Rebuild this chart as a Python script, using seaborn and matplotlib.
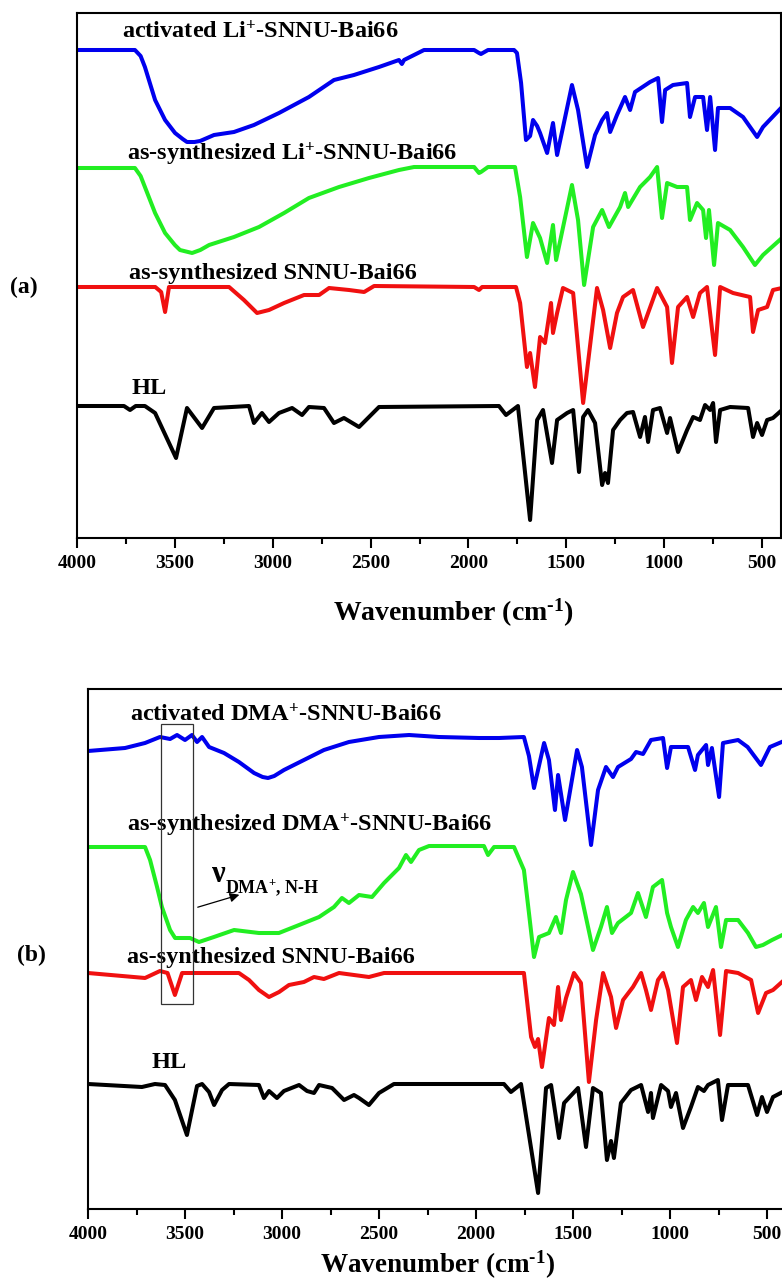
import matplotlib
matplotlib.use("Agg")
import matplotlib.pyplot as plt
from matplotlib.ticker import MultipleLocator
import seaborn as sns
import pandas as pd

# ---------------- Panel (a) data (wavenumber cm-1, transmittance a.u. with offsets) -------------
a_act_li_wn = [4000, 3704, 3675, 3653, 3601, 3550, 3499, 3460, 3438, 3400, 3371, 3300, 3198, 3096, 2968,
               2815, 2687, 2585, 2457, 2355, 2340, 2329, 2227, 1971, 1946, 1936, 1900, 1767, 1752, 1731,
               1706, 1685, 1670, 1649, 1634, 1598, 1568, 1547, 1471, 1440, 1394, 1353, 1317, 1292, 1276,
               1241, 1200, 1174, 1149, 1072, 1031, 1011, 995, 955, 883, 868, 842, 801, 781, 765, 740,
               725, 663, 597, 525, 495, 398]
a_act_li_t = [488, 488, 482, 471, 438, 418, 405, 399, 396, 396, 397, 403, 406, 413, 425,
              441, 458, 463, 471, 478, 474, 478, 488, 488, 485, 484, 488, 488, 485, 455,
              398, 402, 418, 412, 405, 385, 415, 383, 453, 428, 371, 403, 418, 425, 406,
              423, 441, 428, 446, 456, 460, 416, 448, 453, 455, 421, 441, 441, 408, 441, 388,
              430, 430, 421, 401, 411, 431]

a_syn_li_wn = [4000, 3704, 3675, 3653, 3601, 3550, 3500, 3474, 3412, 3370, 3325, 3198, 3070, 2942, 2815,
               2661, 2508, 2355, 2278, 1971, 1946, 1936, 1900, 1762, 1736, 1701, 1670, 1634, 1598, 1568,
               1552, 1471, 1440, 1409, 1363, 1317, 1282, 1225, 1200, 1184, 1123, 1072, 1036, 1011, 985,
               934, 883, 868, 832, 801, 786, 771, 745, 725, 663, 597, 536, 495, 398]
a_syn_li_t = [370, 370, 362, 351, 325, 305, 293, 288, 285, 288, 293, 301, 311, 325, 340,
              351, 360, 368, 371, 371, 365, 366, 371, 371, 341, 281, 315, 300, 275, 313,
              278, 353, 318, 253, 311, 328, 311, 331, 345, 331, 351, 361, 371, 320, 355,
              351, 351, 318, 335, 328, 300, 328, 273, 315, 308, 291, 273, 283, 300]

a_syn_wn = [4000, 3600, 3570, 3550, 3530, 3223, 3147, 3080, 3019, 2942, 2840, 2763, 2712, 2610, 2533,
            2482, 1971, 1946, 1930, 1757, 1736, 1701, 1685, 1660, 1634, 1609, 1578, 1568, 1547, 1517,
            1465, 1414, 1343, 1312, 1276, 1241, 1210, 1159, 1108, 1036, 985, 960, 929, 883, 852, 817,
            781, 740, 714, 648, 561, 546, 520, 474, 444, 398]
a_syn_t = [251, 251, 246, 226, 251, 251, 238, 225, 228, 235, 243, 243, 250, 248, 246,
           252, 251, 248, 251, 251, 235, 171, 185, 151, 201, 195, 235, 205, 225, 250,
           245, 135, 250, 228, 190, 225, 241, 248, 211, 250, 231, 175, 231, 241, 221, 245,
           251, 183, 251, 245, 241, 206, 228, 231, 248, 250]

a_hl_wn = [4000, 3760, 3729, 3700, 3653, 3601, 3494, 3438, 3361, 3300, 3121, 3096, 3055, 3019, 2968,
           2901, 2850, 2815, 2738, 2687, 2636, 2559, 2508, 2457, 1844, 1808, 1747, 1685, 1649, 1619,
           1573, 1547, 1496, 1465, 1435, 1414, 1389, 1353, 1317, 1302, 1287, 1261, 1225, 1190, 1159,
           1123, 1098, 1082, 1057, 1021, 985, 970, 929, 883, 852, 817, 791, 765, 750, 735, 714, 663,
           571, 546, 525, 500, 474, 444, 398]
a_hl_t = [132, 132, 128, 132, 132, 125, 80, 130, 110, 130, 132, 115, 125, 116, 125,
          130, 123, 131, 130, 115, 120, 111, 121, 131, 132, 123, 132, 18, 118, 128,
          75, 118, 125, 128, 66, 121, 128, 115, 53, 65, 55, 108, 118, 125, 126,
          101, 121, 96, 128, 130, 105, 120, 86, 108, 121, 118, 133, 128, 135, 96, 128, 131,
          130, 101, 115, 103, 118, 120, 128]

# ---------------- Panel (b) data ----------------
b_act_dma_wn = [4000, 3809, 3706, 3629, 3577, 3541, 3500, 3464, 3438, 3412, 3376, 3299, 3222, 3144, 3100,
                3072, 3040, 2990, 2887, 2784, 2655, 2500, 2345, 2191, 1985, 1881, 1753, 1727, 1701, 1649,
                1624, 1593, 1577, 1541, 1479, 1454, 1407, 1371, 1330, 1294, 1268, 1201, 1175, 1139, 1098,
                1036, 1015, 995, 907, 871, 856, 814, 804, 784, 747, 727, 649, 600, 531, 485, 400]
b_act_dma_t = [458, 461, 466, 472, 470, 474, 469, 474, 467, 472, 462, 456, 447, 436, 432,
               431, 433, 439, 449, 459, 467, 472, 474, 472, 471, 471, 472, 453, 421, 466,
               449, 399, 434, 389, 459, 442, 364, 419, 442, 432, 442, 450, 457, 455, 469,
               471, 441, 462, 462, 439, 454, 464, 444, 461, 412, 466, 469, 462, 444, 462, 469]

b_syn_dma_wn = [4000, 3706, 3680, 3644, 3619, 3577, 3551, 3474, 3428, 3351, 3247, 3119, 3016, 2912, 2809,
                2732, 2691, 2655, 2603, 2536, 2474, 2397, 2361, 2335, 2294, 2242, 1959, 1938, 1907, 1804,
                1753, 1727, 1701, 1675, 1624, 1588, 1562, 1536, 1500, 1459, 1418, 1397, 1356, 1325, 1299,
                1268, 1201, 1165, 1124, 1088, 1041, 1015, 995, 959, 918, 881, 856, 825, 804, 763, 737,
                711, 649, 598, 557, 521, 474, 400]
b_syn_dma_t = [362, 362, 349, 322, 302, 279, 271, 271, 267, 272, 279, 276, 276, 284, 292,
               302, 311, 306, 314, 312, 326, 341, 354, 347, 359, 363, 363, 354, 362, 362,
               339, 296, 252, 272, 276, 292, 276, 309, 337, 315, 278, 259, 282, 302, 276,
               286, 296, 316, 292, 322, 329, 296, 282, 262, 289, 302, 296, 306, 282, 302, 262,
               289, 289, 276, 262, 264, 269, 276]

b_syn_wn = [4000, 3706, 3629, 3590, 3552, 3515, 3222, 3170, 3119, 3067, 3015, 2964, 2887, 2835, 2784,
            2706, 2629, 2552, 2474, 1753, 1716, 1696, 1680, 1660, 1624, 1598, 1577, 1562, 1536, 1495,
            1459, 1418, 1381, 1345, 1304, 1278, 1242, 1191, 1149, 1124, 1098, 1062, 1036, 1010, 964,
            933, 892, 866, 835, 804, 778, 742, 711, 649, 582, 546, 505, 469, 400]
b_syn_t = [236, 231, 238, 236, 214, 236, 236, 229, 219, 212, 217, 224, 227, 232, 230,
           236, 234, 232, 236, 236, 172, 162, 170, 142, 191, 184, 222, 189, 211, 236,
           226, 127, 189, 236, 212, 181, 209, 222, 236, 219, 199, 229, 236, 219, 166,
           222, 229, 209, 232, 222, 239, 174, 238, 236, 229, 196, 216, 219, 231]

b_hl_wn = [4000, 3722, 3655, 3603, 3552, 3490, 3438, 3412, 3376, 3350, 3309, 3273, 3119, 3093, 3067,
           3026, 2990, 2912, 2871, 2835, 2809, 2742, 2680, 2629, 2603, 2552, 2500, 2423, 1856, 1820,
           1768, 1680, 1639, 1613, 1572, 1546, 1474, 1433, 1397, 1356, 1325, 1304, 1289, 1253, 1201,
           1149, 1113, 1098, 1088, 1046, 1010, 995, 969, 933, 892, 856, 825, 804, 753, 732, 701,
           598, 551, 526, 500, 469, 400]
b_hl_t = [125, 122, 125, 124, 109, 74, 123, 125, 117, 104, 119, 125, 124, 111, 118,
          111, 118, 124, 118, 116, 124, 121, 109, 114, 111, 104, 116, 125, 125, 117,
          125, 16, 121, 124, 71, 106, 121, 62, 121, 116, 49, 68, 51, 106, 119,
          124, 97, 116, 91, 124, 118, 102, 116, 81, 102, 122, 118, 124, 129, 89, 124,
          124, 94, 112, 97, 112, 119]

a_labels = ["activated Li$^{+}$-SNNU-Bai66", "as-synthesized Li$^{+}$-SNNU-Bai66",
            "as-synthesized SNNU-Bai66", "HL"]
b_labels = ["activated DMA$^{+}$-SNNU-Bai66", "as-synthesized DMA$^{+}$-SNNU-Bai66",
            "as-synthesized SNNU-Bai66", "HL"]
xlabel = "Wavenumber (cm$^{\\text{-1}}$)"
colors = ["#0000ee", "#22ee22", "#f01010", "#000000"]

sns.set_style("ticks")
plt.rcParams['font.family'] = ['Liberation Serif', 'DejaVu Serif']
plt.rcParams['font.weight'] = 'bold'
plt.rcParams['text.color'] = 'black'
plt.rcParams['axes.labelcolor'] = 'black'
plt.rcParams['xtick.color'] = 'black'
plt.rcParams['mathtext.fontset'] = 'custom'
plt.rcParams['mathtext.rm'] = 'Liberation Serif:bold'
plt.rcParams['mathtext.bf'] = 'Liberation Serif:bold'
plt.rcParams['mathtext.it'] = 'Liberation Serif:bold'
plt.rcParams['mathtext.default'] = 'bf'

W, H = 782, 1284
fig = plt.figure(figsize=(W / 100, H / 100), dpi=100)
ax_a = fig.add_axes([77 / W, 1 - 538 / H, 704 / W, 525 / H])
ax_b = fig.add_axes([88 / W, 1 - 1209 / H, 698.4 / W, 520 / H])


def draw(ax, series, xlim, ylim, xl_size):
    for (wn, t), c in zip(series, colors):
        df = pd.DataFrame({"wn": wn, "t": t})
        sns.lineplot(data=df, x="wn", y="t", ax=ax, color=c, lw=2.9, sort=False,
                     estimator=None, legend=False, solid_joinstyle="round",
                     solid_capstyle="round")
    ax.set_xlim(*xlim)
    ax.set_ylim(*ylim)
    ax.set_yticks([])
    ax.set_ylabel("")
    ax.xaxis.set_major_locator(MultipleLocator(500))
    ax.xaxis.set_minor_locator(MultipleLocator(250))
    ax.tick_params(axis="x", which="major", direction="out", length=7, width=1.5,
                   labelsize=14, pad=5, colors="black", labelcolor="black")
    ax.tick_params(axis="x", which="minor", direction="out", length=4, width=1.5, colors="black")
    for s in ax.spines.values():
        s.set_linewidth(1.5)
        s.set_color("black")
        s.set_visible(True)
    for lab in ax.get_xticklabels():
        lab.set_fontweight("bold")
    ax.set_xlabel(xlabel, fontsize=xl_size, fontweight="bold", color="black")
    ax.xaxis.label.set_va("center")


draw(ax_a, [(a_act_li_wn, a_act_li_t), (a_syn_li_wn, a_syn_li_t), (a_syn_wn, a_syn_t), (a_hl_wn, a_hl_t)],
     (4000, 403), (0, 525), 20)
draw(ax_b, [(b_act_dma_wn, b_act_dma_t), (b_syn_dma_wn, b_syn_dma_t), (b_syn_wn, b_syn_t), (b_hl_wn, b_hl_t)],
     (4000, 400), (0, 520), 19.5)
ax_a.xaxis.set_label_coords(0.534, -0.143)
ax_b.xaxis.set_label_coords(0.5, -0.108)

# curve labels
a_pos = [(3770, 506), (3745, 384), (3734, 265), (3719, 150)]
b_pos = [(3784, 494), (3799, 384), (3799, 251), (3670, 147)]
for ax, labels, pos in [(ax_a, a_labels, a_pos), (ax_b, b_labels, b_pos)]:
    for lab, (x, y) in zip(labels, pos):
        ax.text(x, y, lab, fontsize=17.5, fontweight="bold", ha="left", va="center", color="black")

# annotation box and arrow in panel (b)
ax_b.add_patch(plt.Rectangle((3624, 205), 3459 - 3624, 485 - 205, fill=False,
                             ec="#333333", lw=0.9, zorder=5))
ax_b.annotate("", xy=(3206, 315), xytext=(3448, 301),
              arrowprops=dict(arrowstyle="-|>", color="black", lw=0.9, mutation_scale=14))
ax_b.text(3361, 335, "ν", fontsize=22, fontweight="bold", ha="left", va="center", color="black")
ax_b.text(3294, 321, "DMA$^{+}$, N-H", fontsize=13, fontweight="bold", ha="left", va="center",
          color="black")

fig.text(10 / W, 1 - 287 / H, "(a)", fontsize=17, fontweight="bold", ha="left", va="center", color="black")
fig.text(17 / W, 1 - 955 / H, "(b)", fontsize=17, fontweight="bold", ha="left", va="center", color="black")

fig.savefig("out.png", dpi=100)
